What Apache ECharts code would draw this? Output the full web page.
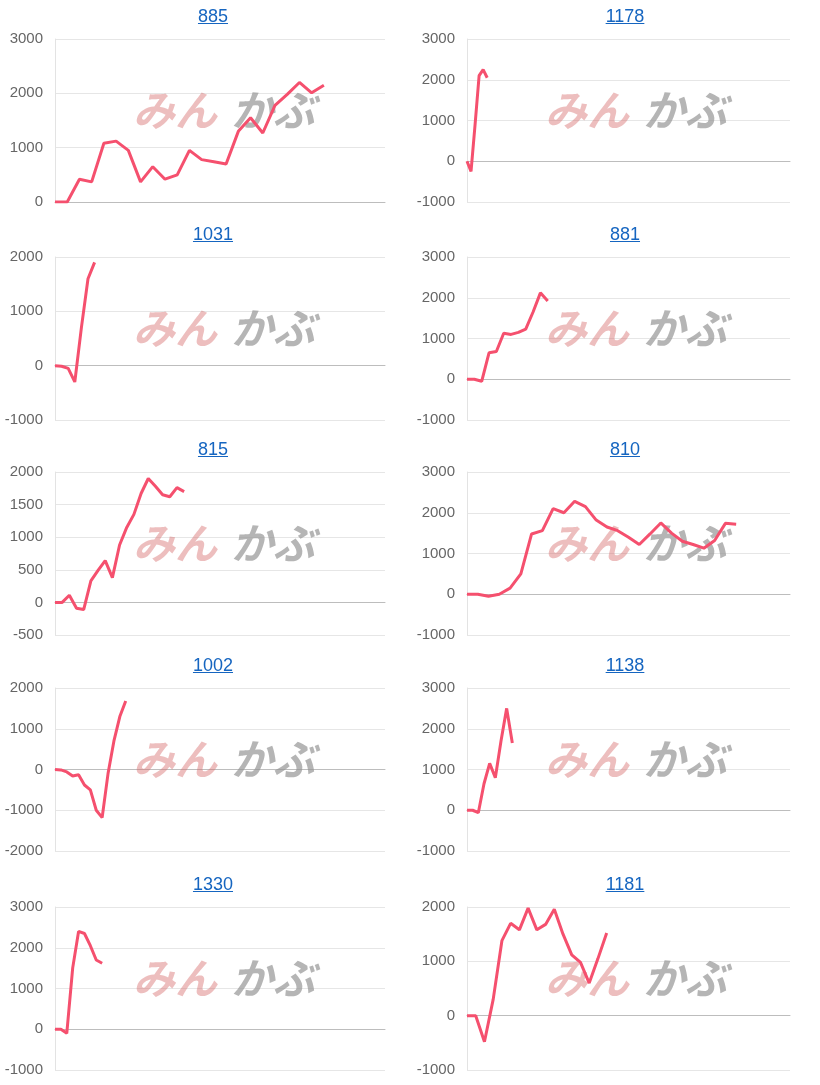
<!DOCTYPE html>
<html lang="ja">
<head>
<meta charset="UTF-8">
<title>収支グラフ</title>
<script src="https://cdn.jsdelivr.net/npm/echarts@6/dist/echarts.min.js"></script>
<style>
  body { margin: 0; background: #fff; font-family: 'Liberation Sans', Arial, sans-serif; }
  #wrap { position: relative; width: 820px; height: 1085px; }
  #chart { position: absolute; left: 0; top: 0; width: 820px; height: 1085px; }
  .ttl { position: absolute; width: 120px; margin-left: -60px; text-align: center; font-size: 18px; }
  .ttl a { color: #1565c0; text-decoration: underline; }
</style>
</head>
<body>
<div id="wrap">
  <div id="chart"></div>
</div>
<script>
// 台番号
const titles = ['885', '1178', '1031', '881', '815', '810', '1002', '1138', '1330', '1181'];
// x軸の区間数
const slots = [27, 80, 50, 44, 46, 30, 56, 57, 56, 37];
// 差枚データ
const s885 = [0, 0, 420, 370, 1080, 1120, 950, 370, 650, 420, 500, 950, 780, 740, 700, 1300, 1550, 1270, 1780, 1980, 2200, 2010, 2150];
const s1178 = [0, -250, 900, 2100, 2250, 2050];
const s1031 = [0, -10, -50, -300, 700, 1600, 1900];
const s881 = [0, 0, -50, 650, 680, 1130, 1100, 1150, 1230, 1650, 2120, 1920];
const s815 = [0, 0, 110, -90, -110, 330, 490, 640, 380, 880, 1150, 1350, 1670, 1900, 1780, 1650, 1620, 1760, 1700];
const s810 = [0, 0, -50, 0, 150, 500, 1480, 1560, 2100, 2000, 2280, 2150, 1820, 1650, 1560, 1400, 1220, 1480, 1750, 1500, 1300, 1220, 1130, 1320, 1740, 1720];
const s1002 = [0, -10, -60, -160, -130, -380, -500, -1000, -1180, -100, 700, 1300, 1680];
const s1138 = [0, 0, -60, 650, 1150, 800, 1700, 2500, 1650];
const s1330 = [0, 0, -100, 1500, 2400, 2350, 2050, 1700, 1620];
const s1181 = [0, 0, -480, 300, 1380, 1700, 1580, 1980, 1580, 1680, 1960, 1500, 1120, 980, 600, 1050, 1520];
const seriesData = [s885, s1178, s1031, s881, s815, s810, s1002, s1138, s1330, s1181];
// y軸の範囲
const yMin = [0, -1000, -1000, -1000, -500, -1000, -2000, -1000, -1000, -1000];
const yMax = [3000, 3000, 2000, 3000, 2000, 3000, 2000, 3000, 3000, 2000];
const yStep = [1000, 1000, 1000, 1000, 500, 1000, 1000, 1000, 1000, 1000];

const rowTop = [39, 257, 472, 688, 907];
const plotH = 163;

const chart = echarts.init(document.getElementById('chart'));
const grids = [], xAxes = [], yAxes = [], series = [], graphics = [];
const wrap = document.getElementById('wrap');

titles.forEach((t, i) => {
  const row = Math.floor(i / 2), col = i % 2;
  const top = rowTop[row];
  const left = col === 0 ? 55 : 467;
  const right = col === 0 ? 435 : 30;
  grids.push({ left: left, right: right, top: top, height: plotH, containLabel: false });
  xAxes.push({
    gridIndex: i, type: 'category', boundaryGap: false,
    data: Array.from({ length: slots[i] + 1 }, (_, k) => k),
    axisLabel: { show: false }, axisTick: { show: false },
    axisLine: { onZero: true, lineStyle: { color: '#bdbdbd' } }
  });
  yAxes.push({
    gridIndex: i, type: 'value', min: yMin[i], max: yMax[i], interval: yStep[i],
    axisLine: { show: true, lineStyle: { color: '#e3e3e3' } },
    axisTick: { show: false },
    axisLabel: { color: '#666', fontSize: 15, fontFamily: 'Liberation Sans', margin: 12,
      formatter: v => String(v) },
    splitLine: { lineStyle: { color: '#e6e6e6' } }
  });
  series.push({
    type: 'line', xAxisIndex: i, yAxisIndex: i, data: seriesData[i],
    showSymbol: false, smooth: false,
    lineStyle: { color: '#f5506e', width: 3 }, z: 3
  });
  // ウォーターマーク
  const cx = col === 0 ? 133 : 545;
  const cy = top + 50;
  graphics.push({
    type: 'text', left: cx, top: cy, z: 1, silent: true,
    style: { text: 'みん', fontSize: 42, fontWeight: 'bold', fontStyle: 'italic',
      fontFamily: 'Noto Sans CJK JP', fill: 'rgba(215,110,110,0.45)' }
  });
  graphics.push({
    type: 'text', left: cx + 98, top: cy, z: 1, silent: true,
    style: { text: 'かぶ', fontSize: 42, fontWeight: 'bold', fontStyle: 'italic',
      fontFamily: 'Noto Sans CJK JP', fill: 'rgba(150,150,150,0.7)' }
  });
  // タイトル
  const d = document.createElement('div');
  d.className = 'ttl';
  d.style.left = (col === 0 ? 213 : 625) + 'px';
  d.style.top = (top - 33) + 'px';
  d.innerHTML = '<a href="#">' + t + '</a>';
  wrap.appendChild(d);
});

chart.setOption({
  animation: false,
  grid: grids, xAxis: xAxes, yAxis: yAxes, series: series, graphic: graphics
});
</script>
</body>
</html>
